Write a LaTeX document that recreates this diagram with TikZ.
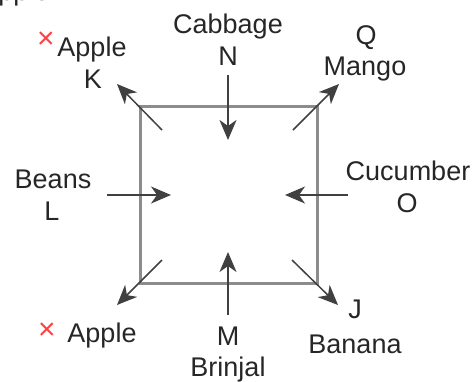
\documentclass[tikz,border=0pt]{standalone}
\usepackage{fontspec}
\setmainfont{Liberation Sans}
\usetikzlibrary{arrows.meta}
\begin{document}
\begin{tikzpicture}
	[x=1pt,y=-1pt,
	lbl/.style={anchor=base,inner sep=0pt,text=black!85,font=\fontsize{27}{32}\selectfont},
	cross/.style={inner sep=0pt,text=red!75!white,font=\fontsize{30}{34}\selectfont},
	box/.style={draw=black!45,line width=3pt},
	arr/.style={draw=black!75,line width=1.5pt,-{Stealth[length=20pt,width=17pt,inset=6pt]}}]
	\useasboundingbox (0,0) rectangle (476,381);
	\draw[box] (140,106) rectangle (317,283);
	% labels
	\node[lbl,name=cut] at (15,0) {Apple};
	\node[cross,name=xk] at (46,40) {×};
	\node[lbl,name=applek] at (92,56.5) {Apple};
	\node[lbl,name=k] at (93,88) {K};
	\node[lbl,name=cabbage] at (228,33) {Cabbage};
	\node[lbl,name=n] at (228,65) {N};
	\node[lbl,name=q] at (366,44) {Q};
	\node[lbl,name=mango] at (365,75) {Mango};
	\node[lbl,name=beans] at (53,188) {Beans};
	\node[lbl,name=l] at (52,220) {L};
	\node[lbl,name=cucumber] at (408,180) {Cucumber};
	\node[lbl,name=o] at (407,212) {O};
	\node[cross,name=xb] at (47,331) {×};
	\node[lbl,name=appleb] at (102,342) {Apple};
	\node[lbl,name=m] at (228,345) {M};
	\node[lbl,name=brinjal] at (228,376) {Brinjal};
	\node[lbl,name=j] at (355,318) {J};
	\node[lbl,name=banana] at (355,353) {Banana};
	% arrow ends
	\coordinate (ka) at (162,130); \coordinate (kb) at (117,84);
	\coordinate (qa) at (293,130); \coordinate (qb) at (339,84);
	\coordinate (aa) at (162,260); \coordinate (ab) at (117,305);
	\coordinate (ja) at (292,260); \coordinate (jb) at (338,305);
	\coordinate (na) at (228,75); \coordinate (nb) at (228,140);
	\coordinate (ma) at (228,315); \coordinate (mb) at (228,252);
	\coordinate (la) at (107,195); \coordinate (lb) at (171,195);
	\coordinate (oa) at (348,195); \coordinate (ob) at (285,195);
	\draw[arr](ka)--(kb);
	\draw[arr](qa)--(qb);
	\draw[arr](aa)--(ab);
	\draw[arr](ja)--(jb);
	\draw[arr](na)--(nb);
	\draw[arr](ma)--(mb);
	\draw[arr](la)--(lb);
	\draw[arr](oa)--(ob);
\end{tikzpicture}
\end{document}
